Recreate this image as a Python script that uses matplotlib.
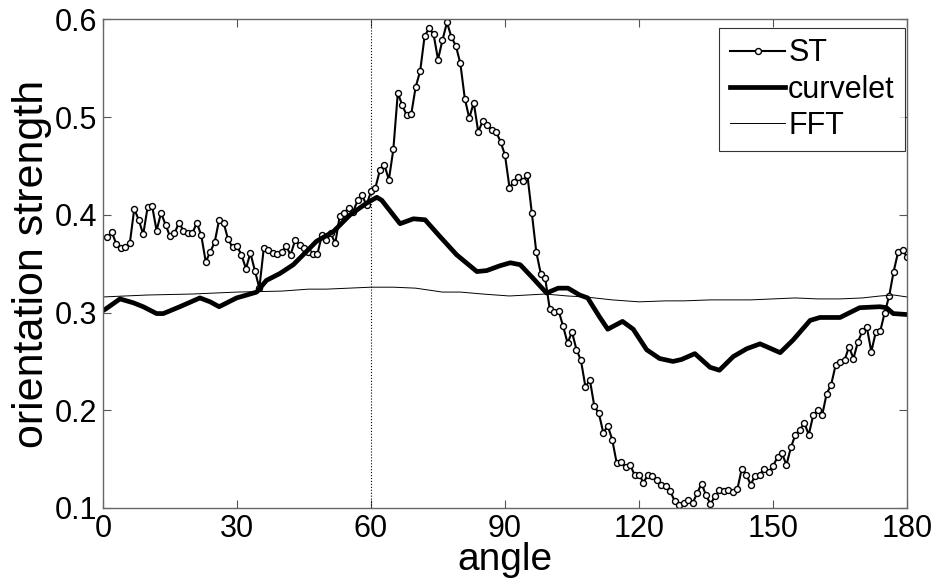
import numpy as np
import matplotlib
matplotlib.use("Agg")
import matplotlib.pyplot as plt

plt.rcParams['font.family'] = ['Liberation Sans', 'DejaVu Sans']

# ST series: one value per degree, angles 1..180
st_angles = list(range(1, 181))
st_values = [
    0.377, 0.382, 0.370, 0.366, 0.367, 0.371, 0.406, 0.395, 0.380, 0.408,
    0.409, 0.384, 0.402, 0.390, 0.378, 0.381, 0.392, 0.384, 0.381, 0.381,
    0.392, 0.379, 0.352, 0.362, 0.372, 0.395, 0.392, 0.375, 0.367, 0.368,
    0.359, 0.345, 0.361, 0.343, 0.325, 0.366, 0.364, 0.361, 0.360, 0.362,
    0.368, 0.359, 0.374, 0.369, 0.366, 0.362, 0.360, 0.360, 0.379, 0.374,
    0.381, 0.371, 0.399, 0.402, 0.407, 0.403, 0.415, 0.420, 0.410, 0.424,
    0.428, 0.446, 0.451, 0.436, 0.467, 0.525, 0.512, 0.502, 0.503, 0.531,
    0.547, 0.583, 0.591, 0.585, 0.559, 0.579, 0.597, 0.582, 0.573, 0.555,
    0.519, 0.499, 0.515, 0.485, 0.496, 0.492, 0.487, 0.485, 0.475, 0.461,
    0.428, 0.434, 0.439, 0.435, 0.441, 0.402, 0.362, 0.340, 0.335, 0.304,
    0.301, 0.302, 0.286, 0.269, 0.280, 0.262, 0.251, 0.224, 0.231, 0.204,
    0.197, 0.177, 0.184, 0.170, 0.146, 0.147, 0.142, 0.144, 0.134, 0.134,
    0.126, 0.134, 0.133, 0.129, 0.124, 0.122, 0.117, 0.107, 0.103, 0.105,
    0.108, 0.105, 0.115, 0.125, 0.113, 0.104, 0.112, 0.118, 0.117, 0.118,
    0.116, 0.119, 0.140, 0.134, 0.124, 0.133, 0.134, 0.140, 0.137, 0.143,
    0.152, 0.156, 0.144, 0.162, 0.175, 0.180, 0.187, 0.175, 0.195, 0.200,
    0.195, 0.217, 0.226, 0.246, 0.249, 0.251, 0.265, 0.253, 0.270, 0.281,
    0.285, 0.260, 0.280, 0.281, 0.300, 0.317, 0.342, 0.362, 0.364, 0.357,
]

# curvelet series (read points)
curv_angles = [0, 0.7, 3.8, 6.8, 9, 12, 13.5, 17.2, 21.7, 24, 26, 29.9, 32.2,
               34.4, 36.6, 39.6, 42.6, 45, 47.8, 51.6, 55.3, 59, 61.3, 62.4,
               66.5, 69.5, 72.1, 75.4, 79.2, 83.7, 85.9, 88.9, 91.2, 93.4,
               96.3, 99.3, 101.9, 104.1, 106.7, 108.5, 111.1, 113, 116.3,
               118.7, 121.7, 124.6, 127.6, 129.5, 132.5, 135.9, 138, 141.1,
               144.1, 147.1, 151.6, 154.5, 158.3, 160.5, 165, 169.4, 173.9,
               175.4, 176.9, 180]
curv_values = [0.302, 0.304, 0.314, 0.310, 0.306, 0.299, 0.299, 0.306, 0.315,
               0.311, 0.306, 0.315, 0.318, 0.321, 0.333, 0.340, 0.349, 0.360,
               0.373, 0.383, 0.400, 0.412, 0.418, 0.415, 0.391, 0.396, 0.395,
               0.378, 0.359, 0.342, 0.343, 0.348, 0.351, 0.349, 0.335, 0.320,
               0.325, 0.325, 0.318, 0.315, 0.296, 0.283, 0.291, 0.283, 0.262,
               0.253, 0.250, 0.252, 0.258, 0.244, 0.241, 0.255, 0.263, 0.268,
               0.259, 0.272, 0.292, 0.295, 0.295, 0.305, 0.306, 0.305, 0.299,
               0.298]

# FFT series (read points)
fft_angles = [0, 10, 20, 30, 40, 46, 50, 55, 60, 65, 70, 76, 80, 85, 91, 95,
              99, 104, 108, 114, 120, 126, 130, 136, 140, 145, 150, 155, 160,
              165, 170, 174, 177, 180]
fft_values = [0.316, 0.318, 0.319, 0.321, 0.322, 0.324, 0.324, 0.325, 0.326,
              0.326, 0.325, 0.321, 0.321, 0.319, 0.317, 0.318, 0.319, 0.317,
              0.316, 0.313, 0.311, 0.312, 0.312, 0.313, 0.313, 0.313, 0.314,
              0.315, 0.314, 0.314, 0.315, 0.317, 0.318, 0.316]

x_ticks = [0, 30, 60, 90, 120, 150, 180]
y_ticks = [0.1, 0.2, 0.3, 0.4, 0.5, 0.6]
y_tick_labels = ["0.1", "0.2", "0.3", "0.4", "0.5", "0.6"]

fig = plt.figure(figsize=(9.38, 5.87), dpi=100)
ax = fig.add_axes([0.1098, 0.1346, 0.8572, 0.8322])

ax.axvline(60, color='black', linestyle=':', linewidth=0.8)
ax.plot(st_angles, st_values, color='black', linewidth=1.5, marker='o',
        markersize=4.3, markerfacecolor='white', markeredgecolor='black',
        markeredgewidth=1.0, label='ST')
ax.plot(curv_angles, curv_values, color='black', linewidth=3.4,
        label='curvelet')
ax.plot(fft_angles, fft_values, color='black', linewidth=0.7, label='FFT')

ax.set_xlim(0, 180)
ax.set_ylim(0.1, 0.6)
ax.set_xticks(x_ticks)
ax.set_xticklabels([str(t) for t in x_ticks])
ax.set_yticks(y_ticks)
ax.set_yticklabels(y_tick_labels)
ax.tick_params(direction='in', length=6, width=0.8, top=True, right=True,
               labelsize=22, pad=4, colors='#555555', labelcolor='black')
for s in ax.spines.values():
    s.set_color('#666666')
    s.set_linewidth(1.0)

ax.set_xlabel('angle', fontsize=28, labelpad=-1)
ax.set_ylabel('orientation strength', fontsize=31, labelpad=2)

leg = ax.legend(loc='upper right', bbox_to_anchor=(0.998, 0.983),
                fontsize=22, frameon=True, fancybox=False,
                edgecolor='black', handlelength=1.8, handletextpad=0.1,
                borderpad=0.35, labelspacing=0.2, borderaxespad=0.0)
leg.get_frame().set_linewidth(0.8)

fig.savefig('out.png', dpi=100)
